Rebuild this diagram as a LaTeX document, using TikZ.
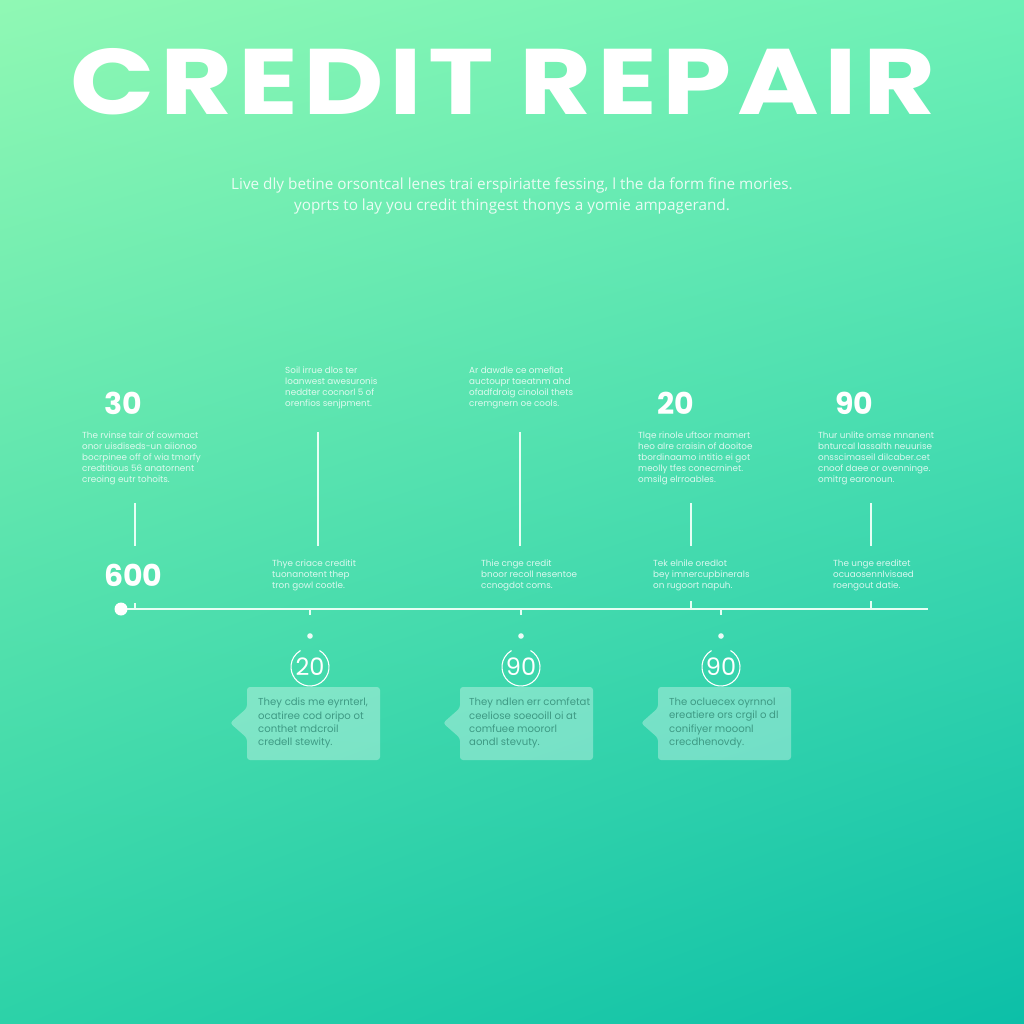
\documentclass[tikz,border=0pt]{standalone}
\usepackage{fontspec}
\setmainfont{Open Sans}
\newfontfamily\popp{Poppins}
\newfontfamily\poppwide[LetterSpace=5]{Poppins}
\usetikzlibrary{calc,shadings}
\definecolor{bgTL}{HTML}{90F8B4}
\definecolor{bgTR}{HTML}{6CF0B6}
\definecolor{bgBL}{HTML}{2CD2A8}
\definecolor{bgBR}{HTML}{0CBFA8}
\definecolor{boxtxt}{HTML}{3E9A84}
\definecolor{linecol}{HTML}{E6FFF4}
\tikzset{
  small/.style={text=white, text opacity=0.8, font=\popp\fontsize{8.8}{10.8}\selectfont, align=left, anchor=north west, inner sep=0pt},
  bignum/.style={text=white, font=\popp\bfseries\fontsize{30}{30}\selectfont, inner sep=0pt, anchor=base west},
  vline/.style={draw=linecol, line width=1.8pt},
  tick/.style={draw=linecol, line width=1.4pt},
  boxtext/.style={text=boxtxt, font=\popp\fontsize{10.1}{13.3}\selectfont, align=left, anchor=north west, inner sep=0pt},
  bubble/.style={fill=white, fill opacity=0.33, draw=none, rounded corners=3pt},
  ring/.style={draw=white, line width=1.1pt},
  ringnum/.style={text=white, font=\popp\fontsize{24}{24}\selectfont, inner sep=0pt},
}
\begin{document}
\begin{tikzpicture}[x=1pt,y=-1pt]
\useasboundingbox (0,0) rectangle (1024,1024);
\shade[upper left=bgTL, upper right=bgTR, lower left=bgBL, lower right=bgBR] (0,1024) rectangle (1024,0);
% title
\node[text=white, inner sep=0pt, anchor=south west] (title) at (70,115)
  {\resizebox{865pt}{66pt}{\poppwide\bfseries CREDIT\hspace{-0.03em} REPAIR}};
% subtitle
\node[text=white, text opacity=0.85, font=\fontsize{15.3}{21}\selectfont, align=center, inner sep=0pt] (sub) at (512,196)
  {Live dly betine orsontcal lenes trai erspiriatte fessing, l the da form fine mories.\\
   yoprts to lay you credit thingest thonys a yomie ampagerand.};
% timeline
\coordinate (tl0) at (121,609);
\coordinate (tl1) at (928,609);
\draw[draw=linecol, line width=2pt] (tl0) -- (tl1);
\fill[white] (tl0) circle (6.5);
% ticks on timeline
\foreach \x/\d in {135/-6,691/-8,871/-8,310/6,521/6,721/6}{
  \draw[tick] (\x,609) -- (\x,609+\d);
}
% vertical connectors
\draw[vline] (135,503) -- (135,546);
\draw[vline] (318,432) -- (318,546);
\draw[vline] (520,432) -- (520,546);
\draw[vline] (691,503) -- (691,546);
\draw[vline] (871,503) -- (871,546);
% big numbers
\node[bignum] (n30) at (104,414) {30};
\node[bignum] (n600) at (104,586) {600};
\node[bignum] (n20) at (657,414) {20};
\node[bignum] (n90) at (835,414) {90};
% text blocks upper
\node[small] (ta) at (82,432) {The rvinse tair of cowmact\\onor uisdiseds-un aiionoo\\bocrpinee off of wia tmorfy\\credtitious 56 anatornent\\creoing eutr tohoits.};
\node[small] (tb) at (285,367) {Soil irrue dlos ter\\loanwest awesuronis\\neddter cocnorl 5 of\\orenfios senjpment.};
\node[small] (tc) at (469,367) {Ar dawdle ce omeflat\\auctoupr taeatnm ahd\\ofadfdroig cinoloil thets\\cremgnern oe cools.};
\node[small] (td) at (638,432) {Tlqe rinole uftoor mamert\\heo alre craisin of dooitoe\\tbordinaamo intitio ei got\\meolly tfes conecrninet.\\omsilg elrroables.};
\node[small] (te) at (818,432) {Thur unlite omse mnanent\\bnturcal lassalth neuurise\\onsscimaseil dilcaber.cet\\cnoof daee or ovenninge.\\omitrg earonoun.};
% text blocks lower (above timeline)
\node[small] (bb) at (272,560) {Thye criace creditit\\tuonanotent thep\\tron gowl cootle.};
\node[small] (bc) at (481,560) {Thie cnge credit\\bnoor recoll nesentoe\\ccnogdot coms.};
\node[small] (bd) at (653,560) {Tek elnile oredlot\\bey imnercupbinerals\\on rugoort napuh.};
\node[small] (be) at (833,560) {The unge ereditet\\ocuaosennlvisaed\\roengout datie.};
% lower markers and bubbles
\foreach \cx/\bx/\num/\i in {310/247/20/1, 521/460/90/2, 721/658/90/3}{
  \fill[white, opacity=0.9] (\cx,636) circle (2.8);
  \draw[ring] ($(\cx,667)+(-60:19)$) arc[start angle=-60, end angle=240, radius=19];
  \node[ringnum] (rn\i) at (\cx,667) {\num};
  \fill[bubble] (\bx,687) -- (\bx+133,687) -- (\bx+133,760) -- (\bx,760) -- (\bx,738) -- (\bx-17,723) -- (\bx,708) -- cycle;
}
\node[boxtext] (b1) at (258,698) {They cdis me eyrnterl,\\ocatiree cod oripo ot\\conthet mdcroil\\credell stewity.};
\node[boxtext] (b2) at (469,698) {They ndlen err comfetat\\ceeliose soeooill oi at\\comfuee moororl\\aondl stevuty.};
\node[boxtext] (b3) at (669,698) {The ocluecex oyrnnol\\ereatiere ors crgil o dl\\conifiyer mooonl\\crecdhenovdy.};
\end{tikzpicture}
\end{document}
